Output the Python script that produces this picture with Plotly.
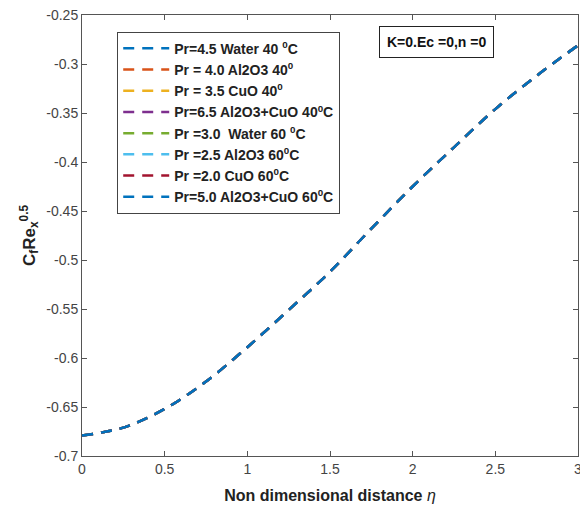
import plotly.graph_objects as go

# data (all eight curves coincide)
eta = [0, 0.25, 0.5, 0.75, 1.0, 1.25, 1.5, 1.75, 2.0, 2.25, 2.5, 2.75, 3.0]
cf = [-0.679, -0.671, -0.652, -0.624, -0.589, -0.551, -0.512, -0.468,
      -0.425, -0.385, -0.346, -0.312, -0.281]

series_names = [
    "Pr=4.5 Water 40 <sup>0</sup>C",
    "Pr = 4.0 Al2O3 40<sup>0</sup>",
    "Pr = 3.5 CuO 40<sup>0</sup>",
    "Pr=6.5 Al2O3+CuO 40<sup>0</sup>C",
    "Pr =3.0  Water 60 <sup>0</sup>C",
    "Pr =2.5 Al2O3 60<sup>0</sup>C",
    "Pr =2.0 CuO 60<sup>0</sup>C",
    "Pr=5.0 Al2O3+CuO 60<sup>0</sup>C",
]
series_colors = ["#0072BD", "#D95319", "#EDB120", "#7E2F8E",
                 "#77AC30", "#4DBEEE", "#A2142F", "#0072BD"]

x_ticks = [0, 0.5, 1, 1.5, 2, 2.5, 3]
x_ticktext = ["0", "0.5", "1", "1.5", "2", "2.5", "3"]
y_ticks = [-0.7, -0.65, -0.6, -0.55, -0.5, -0.45, -0.4, -0.35, -0.3, -0.25]
y_ticktext = ["-0.7", "-0.65", "-0.6", "-0.55", "-0.5", "-0.45", "-0.4",
              "-0.35", "-0.3", "-0.25"]

fig = go.Figure()
for i, (name, col) in enumerate(zip(series_names, series_colors)):
    fig.add_trace(go.Scatter(
        x=eta, y=cf, mode="lines", name=name,
        line=dict(color=col, width=2.5, dash="11px,8px", shape="spline"),
        legendgroup=f"g{i}",
    ))

axis_common = dict(
    showline=True, linecolor="#555555", linewidth=1, mirror="ticks",
    ticks="inside", ticklen=5, tickcolor="#555555",
    showgrid=False, zeroline=False, ticklabeloverflow="allow",
    automargin=False,
    tickfont=dict(family="Liberation Sans, Arial", size=14, color="#444444"),
)

fig.update_layout(
    width=580, height=512,
    margin=dict(l=82, r=2, t=15, b=56, autoexpand=False),
    plot_bgcolor="white", paper_bgcolor="white",
    font=dict(family="Liberation Sans, Arial", color="#222222"),
    xaxis=dict(range=[0, 3], tickvals=x_ticks, ticktext=x_ticktext,
               title=dict(text="<b>Non dimensional distance </b><i>η</i>",
                          font=dict(size=16, color="#222222"), standoff=14),
               **axis_common),
    yaxis=dict(range=[-0.7, -0.25], tickvals=y_ticks, ticktext=y_ticktext,
               title=dict(text="<b>C<sub>f</sub>Re<sub>x</sub><sup>0.5</sup></b>",
                          font=dict(size=17, color="#222222"), standoff=6),
               **axis_common),
    legend=dict(
        x=0.071, y=0.962, xanchor="left", yanchor="top",
        bgcolor="white", bordercolor="#444444", borderwidth=1,
        font=dict(family="Liberation Sans, Arial", size=14, color="#222222",
                  weight="bold"),
        tracegroupgap=0, itemwidth=46,
    ),
    annotations=[dict(
        text="<b>K=0.Ec =0,n =0</b>", xref="paper", yref="paper",
        x=0.714, y=0.938, xanchor="center", yanchor="middle",
        showarrow=False, bordercolor="#222222", borderwidth=1, borderpad=7,
        bgcolor="white", font=dict(size=14, color="#111111"),
    )],
)

fig.write_html("out.html")
